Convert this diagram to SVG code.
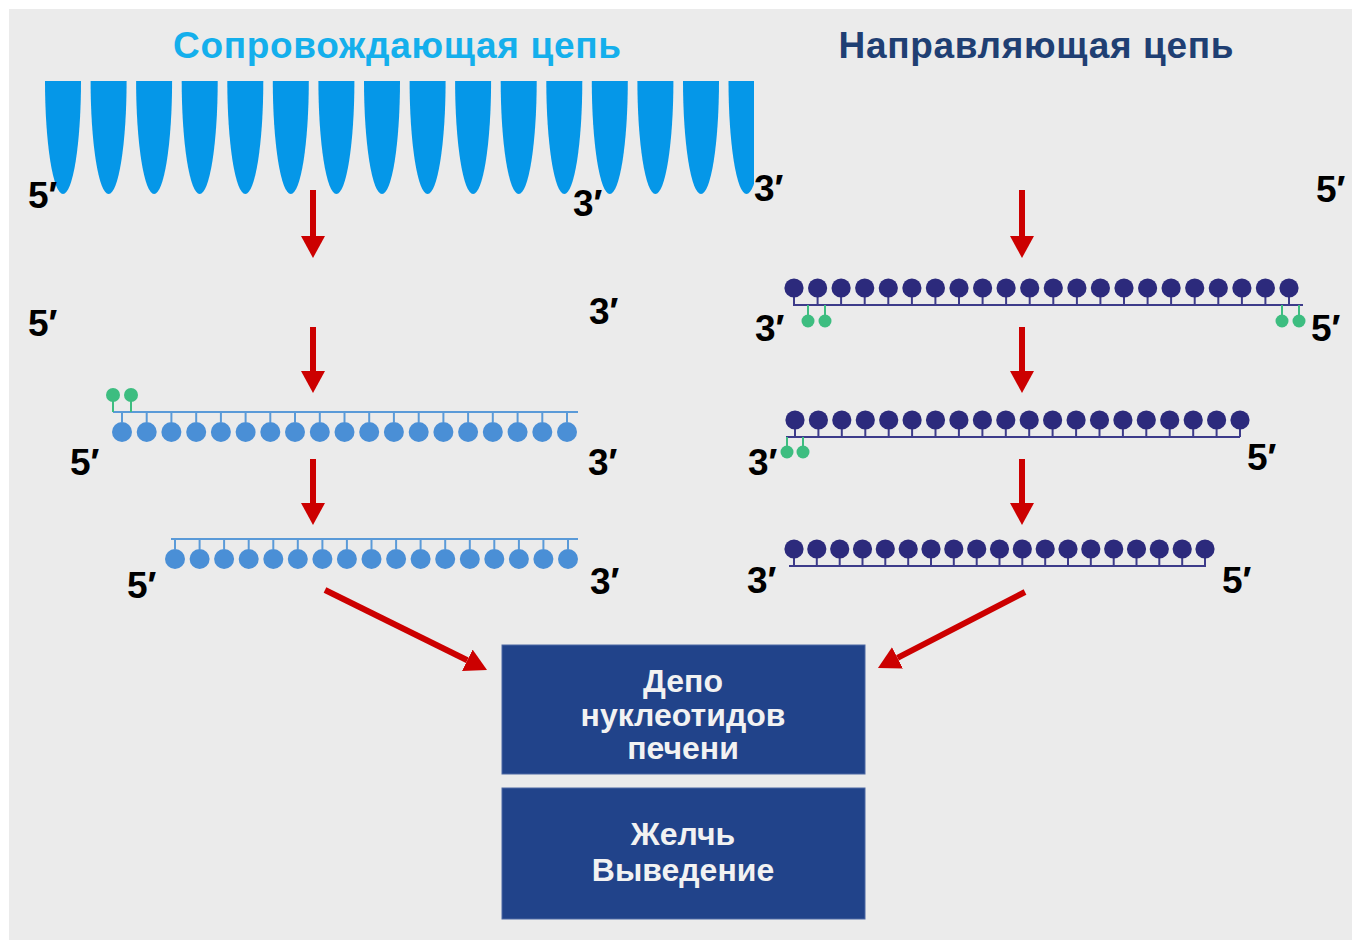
<svg xmlns="http://www.w3.org/2000/svg" xmlns:xlink="http://www.w3.org/1999/xlink" width="1360" height="941" viewBox="0 0 1360 941">
  <style>
    .title { font-family: "Liberation Sans", "DejaVu Sans", sans-serif; font-weight: bold; font-size: 37px; text-anchor: middle; }
    .end { font-family: "Liberation Sans", "DejaVu Sans", sans-serif; font-weight: bold; font-size: 37px; fill: #000; }
    .box { fill: #21438a; stroke: #4d68a3; stroke-width: 1; }
    .boxtext { font-family: "Liberation Sans", "DejaVu Sans", sans-serif; font-weight: bold; font-size: 32px; fill: #f2f2f2; text-anchor: middle; }
    .arrow { stroke: #cc0000; stroke-width: 6; fill: none; marker-end: url(#head); }
    .bbL { stroke: #5a9ad8; stroke-width: 2; fill: none; }
    .bbR { stroke: #3d3b8a; stroke-width: 2; fill: none; }
    .stemG { stroke: #3dbd80; stroke-width: 2; }
    .green { fill: #3dbd80; }
    .lobe { fill: #0597e8; }
  </style>
  <defs>
    <marker id="head" markerUnits="userSpaceOnUse" markerWidth="22" markerHeight="24" refX="0" refY="12" orient="auto">
      <path d="M0,0 L22,12 L0,24 Z" fill="#cc0000"/>
    </marker>
    <!-- light-blue nucleotide hanging below its backbone -->
    <g id="nl">
      <line x1="0" y1="0" x2="0" y2="10" stroke="#5a9ad8" stroke-width="2"/>
      <circle cx="0" cy="20" r="10" fill="#4a8fd6"/>
    </g>
    <!-- navy nucleotide standing above its backbone -->
    <g id="nr">
      <line x1="0" y1="0" x2="0" y2="-12" stroke="#3d3b8a" stroke-width="2"/>
      <circle cx="0" cy="-17" r="9.6" fill="#2c2a7c"/>
    </g>
    <!-- one lobe of the sense strand -->
    <path id="lobe" d="M-18,81 L18,81 A18,113 0 0 1 -18,81 Z"/>
    <clipPath id="lobeClip"><rect x="0" y="0" width="754" height="941"/></clipPath>
  </defs>

  <rect x="0" y="0" width="1360" height="941" fill="#ffffff"/>
  <rect x="9" y="9" width="1343" height="931" fill="#ebebeb"/>

  <!-- titles -->
  <text class="title" x="397" y="58" fill="#14afec" textLength="448">Сопровождающая цепь</text>
  <text class="title" x="1036" y="58" fill="#1f3f73" textLength="395">Направляющая цепь</text>

  <!-- sense strand drawn as lobes -->
  <g id="sense-lobes" class="lobe" clip-path="url(#lobeClip)">
    <use xlink:href="#lobe" x="63"/>
    <use xlink:href="#lobe" x="108.6"/>
    <use xlink:href="#lobe" x="154.1"/>
    <use xlink:href="#lobe" x="199.7"/>
    <use xlink:href="#lobe" x="245.3"/>
    <use xlink:href="#lobe" x="290.8"/>
    <use xlink:href="#lobe" x="336.4"/>
    <use xlink:href="#lobe" x="382"/>
    <use xlink:href="#lobe" x="427.6"/>
    <use xlink:href="#lobe" x="473.1"/>
    <use xlink:href="#lobe" x="518.7"/>
    <use xlink:href="#lobe" x="564.3"/>
    <use xlink:href="#lobe" x="609.8"/>
    <use xlink:href="#lobe" x="655.4"/>
    <use xlink:href="#lobe" x="701"/>
    <use xlink:href="#lobe" x="746.5"/>
  </g>

  <!-- sense strand after processing, with green cap -->
  <g id="sense-1">
    <line class="bbL" x1="113" y1="412" x2="578" y2="412"/>
    <line class="stemG" x1="113" y1="395" x2="113" y2="412"/>
    <line class="stemG" x1="131" y1="395" x2="131" y2="412"/>
    <circle class="green" cx="113" cy="395" r="7"/>
    <circle class="green" cx="131" cy="395" r="7"/>
    <g transform="translate(0,412)">
      <use xlink:href="#nl" x="122"/><use xlink:href="#nl" x="146.7"/><use xlink:href="#nl" x="171.4"/>
      <use xlink:href="#nl" x="196.2"/><use xlink:href="#nl" x="220.9"/><use xlink:href="#nl" x="245.6"/>
      <use xlink:href="#nl" x="270.3"/><use xlink:href="#nl" x="295"/><use xlink:href="#nl" x="319.8"/>
      <use xlink:href="#nl" x="344.5"/><use xlink:href="#nl" x="369.2"/><use xlink:href="#nl" x="393.9"/>
      <use xlink:href="#nl" x="418.7"/><use xlink:href="#nl" x="443.4"/><use xlink:href="#nl" x="468.1"/>
      <use xlink:href="#nl" x="492.8"/><use xlink:href="#nl" x="517.6"/><use xlink:href="#nl" x="542.3"/>
      <use xlink:href="#nl" x="567"/>
    </g>
  </g>

  <!-- shortened sense strand -->
  <g id="sense-2">
    <line class="bbL" x1="171" y1="539" x2="578" y2="539"/>
    <g transform="translate(0,539)">
      <use xlink:href="#nl" x="175"/><use xlink:href="#nl" x="199.6"/><use xlink:href="#nl" x="224.1"/>
      <use xlink:href="#nl" x="248.7"/><use xlink:href="#nl" x="273.3"/><use xlink:href="#nl" x="297.8"/>
      <use xlink:href="#nl" x="322.4"/><use xlink:href="#nl" x="346.9"/><use xlink:href="#nl" x="371.5"/>
      <use xlink:href="#nl" x="396.1"/><use xlink:href="#nl" x="420.6"/><use xlink:href="#nl" x="445.2"/>
      <use xlink:href="#nl" x="469.8"/><use xlink:href="#nl" x="494.3"/><use xlink:href="#nl" x="518.9"/>
      <use xlink:href="#nl" x="543.4"/><use xlink:href="#nl" x="568"/>
    </g>
  </g>

  <!-- guide strand with both green ends -->
  <g id="guide-1">
    <line class="bbR" x1="793" y1="305" x2="1303" y2="305"/>
    <line class="stemG" x1="808" y1="305" x2="808" y2="321"/>
    <line class="stemG" x1="825" y1="305" x2="825" y2="321"/>
    <line class="stemG" x1="1282" y1="305" x2="1282" y2="321"/>
    <line class="stemG" x1="1299" y1="305" x2="1299" y2="321"/>
    <circle class="green" cx="808" cy="321" r="6.5"/>
    <circle class="green" cx="825" cy="321" r="6.5"/>
    <circle class="green" cx="1282" cy="321" r="6.5"/>
    <circle class="green" cx="1299" cy="321" r="6.5"/>
    <g transform="translate(0,305)">
      <use xlink:href="#nr" x="794"/><use xlink:href="#nr" x="817.6"/><use xlink:href="#nr" x="841.1"/>
      <use xlink:href="#nr" x="864.7"/><use xlink:href="#nr" x="888.3"/><use xlink:href="#nr" x="911.9"/>
      <use xlink:href="#nr" x="935.4"/><use xlink:href="#nr" x="959"/><use xlink:href="#nr" x="982.6"/>
      <use xlink:href="#nr" x="1006.1"/><use xlink:href="#nr" x="1029.7"/><use xlink:href="#nr" x="1053.3"/>
      <use xlink:href="#nr" x="1076.9"/><use xlink:href="#nr" x="1100.4"/><use xlink:href="#nr" x="1124"/>
      <use xlink:href="#nr" x="1147.6"/><use xlink:href="#nr" x="1171.1"/><use xlink:href="#nr" x="1194.7"/>
      <use xlink:href="#nr" x="1218.3"/><use xlink:href="#nr" x="1241.9"/><use xlink:href="#nr" x="1265.4"/>
      <use xlink:href="#nr" x="1289"/>
    </g>
  </g>

  <!-- guide strand trimmed at 5' end -->
  <g id="guide-2">
    <line class="bbR" x1="786" y1="437" x2="1240" y2="437"/>
    <line class="stemG" x1="787" y1="437" x2="787" y2="452"/>
    <line class="stemG" x1="803" y1="437" x2="803" y2="452"/>
    <circle class="green" cx="787" cy="452" r="6.5"/>
    <circle class="green" cx="803" cy="452" r="6.5"/>
    <g transform="translate(0,437)">
      <use xlink:href="#nr" x="795"/><use xlink:href="#nr" x="818.4"/><use xlink:href="#nr" x="841.8"/>
      <use xlink:href="#nr" x="865.3"/><use xlink:href="#nr" x="888.7"/><use xlink:href="#nr" x="912.1"/>
      <use xlink:href="#nr" x="935.5"/><use xlink:href="#nr" x="958.9"/><use xlink:href="#nr" x="982.4"/>
      <use xlink:href="#nr" x="1005.8"/><use xlink:href="#nr" x="1029.2"/><use xlink:href="#nr" x="1052.6"/>
      <use xlink:href="#nr" x="1076.1"/><use xlink:href="#nr" x="1099.5"/><use xlink:href="#nr" x="1122.9"/>
      <use xlink:href="#nr" x="1146.3"/><use xlink:href="#nr" x="1169.7"/><use xlink:href="#nr" x="1193.2"/>
      <use xlink:href="#nr" x="1216.6"/><use xlink:href="#nr" x="1240"/>
    </g>
  </g>

  <!-- guide strand trimmed at both ends -->
  <g id="guide-3">
    <line class="bbR" x1="789" y1="566" x2="1206" y2="566"/>
    <g transform="translate(0,566)">
      <use xlink:href="#nr" x="794"/><use xlink:href="#nr" x="816.8"/><use xlink:href="#nr" x="839.7"/>
      <use xlink:href="#nr" x="862.5"/><use xlink:href="#nr" x="885.3"/><use xlink:href="#nr" x="908.2"/>
      <use xlink:href="#nr" x="931"/><use xlink:href="#nr" x="953.8"/><use xlink:href="#nr" x="976.7"/>
      <use xlink:href="#nr" x="999.5"/><use xlink:href="#nr" x="1022.3"/><use xlink:href="#nr" x="1045.2"/>
      <use xlink:href="#nr" x="1068"/><use xlink:href="#nr" x="1090.8"/><use xlink:href="#nr" x="1113.7"/>
      <use xlink:href="#nr" x="1136.5"/><use xlink:href="#nr" x="1159.3"/><use xlink:href="#nr" x="1182.2"/>
      <use xlink:href="#nr" x="1205"/>
    </g>
  </g>

  <!-- strand end labels -->
  <g id="end-labels">
    <text class="end" x="28" y="208">5′</text>
    <text class="end" x="573" y="216">3′</text>
    <text class="end" x="754" y="201">3′</text>
    <text class="end" x="1316" y="202">5′</text>
    <text class="end" x="28" y="336">5′</text>
    <text class="end" x="589" y="324">3′</text>
    <text class="end" x="70" y="475">5′</text>
    <text class="end" x="588" y="475">3′</text>
    <text class="end" x="127" y="598">5′</text>
    <text class="end" x="590" y="594">3′</text>
    <text class="end" x="755" y="341">3′</text>
    <text class="end" x="1311" y="341">5′</text>
    <text class="end" x="748" y="475">3′</text>
    <text class="end" x="1247" y="470">5′</text>
    <text class="end" x="747" y="593">3′</text>
    <text class="end" x="1222" y="593">5′</text>
  </g>

  <!-- red process arrows -->
  <g id="connectors">
    <line class="arrow" x1="313" y1="190" x2="313" y2="236"/>
    <line class="arrow" x1="313" y1="327" x2="313" y2="371"/>
    <line class="arrow" x1="313" y1="459" x2="313" y2="503"/>
    <line class="arrow" x1="1022" y1="190" x2="1022" y2="236"/>
    <line class="arrow" x1="1022" y1="327" x2="1022" y2="371"/>
    <line class="arrow" x1="1022" y1="459" x2="1022" y2="503"/>
    <line class="arrow" x1="325" y1="590" x2="467.3" y2="660.3"/>
    <line class="arrow" x1="1025" y1="592" x2="897.5" y2="657.9"/>
  </g>

  <g id="node-depot">
    <rect class="box" x="502" y="645" width="363" height="129"/>
    <text class="boxtext" x="683" y="692">Депо</text>
    <text class="boxtext" x="683" y="726">нуклеотидов</text>
    <text class="boxtext" x="683" y="759">печени</text>
  </g>

  <g id="node-bile">
    <rect class="box" x="502" y="788" width="363" height="131"/>
    <text class="boxtext" x="683" y="845">Желчь</text>
    <text class="boxtext" x="683" y="881">Выведение</text>
  </g>
</svg>
